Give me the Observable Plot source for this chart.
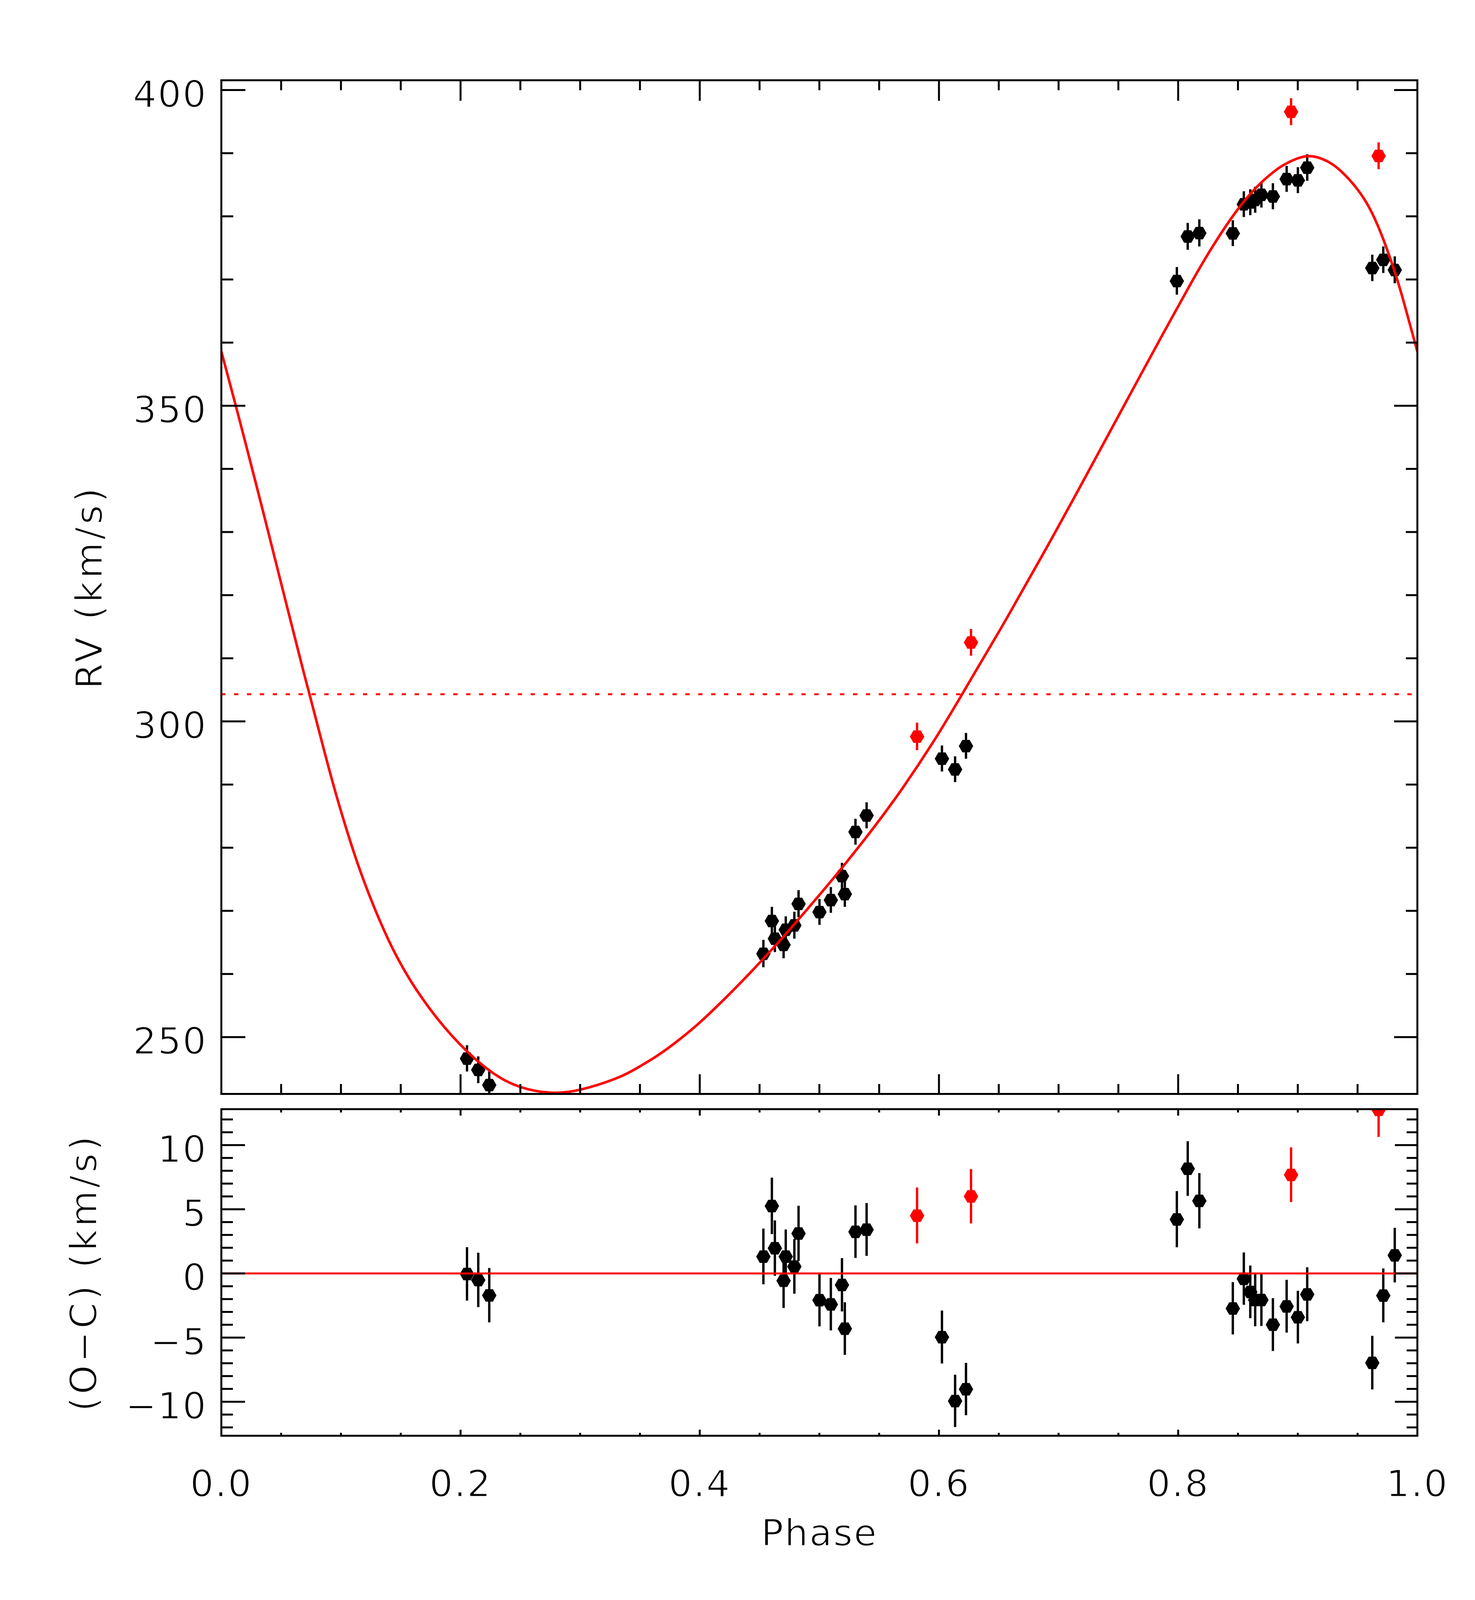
<!DOCTYPE html>
<html>
<head>
<meta charset="utf-8">
<script src="https://cdn.jsdelivr.net/npm/d3@7"></script>
<script src="https://cdn.jsdelivr.net/npm/@observablehq/plot@0.6"></script>
<style>
html,body{margin:0;padding:0;background:#fff;}
#chart{width:3775px;height:4133px;background:#fff;}
#chart svg{display:block;}
#chart svg text{stroke:#fff;stroke-width:2.5px;paint-order:normal;stroke-linejoin:round;}
</style>
</head>
<body>
<div id="chart"></div>
<script>
// ---- observed radial velocities ----
const phase = [0.2054,0.2148,0.2240,0.4532,0.4603,0.4628,0.4701,0.4719,0.4791,0.4826,0.5001,0.5096,0.5189,0.5213,0.5302,0.5395,0.5817,0.6025,0.6135,0.6226,0.6268,0.7989,0.8080,0.8177,0.8457,0.8549,0.8603,0.8644,0.8696,0.8792,0.8907,0.8944,0.9001,0.9079,0.9623,0.9676,0.9715,0.9811];
const rv = [246.6,244.8,242.4,263.2,268.4,265.6,264.6,267.0,267.7,271.1,269.8,271.7,275.5,272.65,282.5,285.1,297.6,294.1,292.4,296.1,312.5,369.75,376.8,377.35,377.3,381.9,382.2,382.6,383.4,383.15,385.9,396.55,385.7,387.7,371.8,389.56,373.1,371.5];
const oc = [-0.05,-0.52,-1.71,1.31,5.25,1.96,-0.57,1.31,0.53,3.11,-2.09,-2.41,-0.9,-4.31,3.24,3.41,4.5,-4.97,-9.95,-9.03,6.0,4.21,8.16,5.65,-2.73,-0.42,-1.45,-2.07,-2.07,-4.0,-2.57,7.68,-3.42,-1.64,-6.97,12.75,-1.73,1.41];
const err = [2.08,2.12,2.12,2.17,2.2,2.16,2.14,2.1,2.13,2.15,2.05,2.04,2.08,2.05,2.05,2.06,2.18,2.06,2.04,2.04,2.12,2.19,2.13,2.15,2.04,2.04,2.05,2.06,2.04,2.06,2.06,2.13,2.05,2.1,2.09,2.13,2.1,2.13];
const outlier = [0,0,0,0,0,0,0,0,0,0,0,0,0,0,0,0,1,0,0,0,1,0,0,0,0,0,0,0,0,0,0,1,0,0,0,1,0,0];

// ---- orbital model curve ----
const modelPhase = [0,0.0118,0.021,0.0336,0.0473,0.0668,0.0737,0.0851,0.0966,0.1103,0.1241,0.1401,0.1585,0.1814,0.2043,0.2272,0.2501,0.2755,0.3006,0.330,0.3476,0.3639,0.3803,0.3999,0.4238,0.4456,0.462,0.474,0.499,0.5198,0.5448,0.5698,0.5948,0.618,0.6448,0.658,0.695,0.732,0.769,0.7877,0.7989,0.8152,0.8314,0.8477,0.864,0.8802,0.8924,0.9086,0.9249,0.937,0.9492,0.9594,0.9696,0.9797,0.9878,1.0];
const modelRV = [358.6,350.2,343.5,334.2,323.9,309.3,304.3,296.0,288.0,279.55,272.3,265.25,258.85,252.75,247.95,244.3,242.1,241.2,241.7,243.46,245.11,246.99,249.22,252.3,256.63,260.88,264.24,266.78,272.28,277.02,283.02,289.5,296.63,303.87,312.5,316.79,329.22,342.06,355.01,361.52,365.36,370.9,376.0,380.56,384.31,387.1,388.56,389.53,388.7,387.0,384.45,381.5,377.3,372.0,367.0,358.6];
const gamma = 304.3;

// ---- axes ----
const xDomain = [0, 1];
const rvDomain = [241.0, 401.55];
const ocDomain = [-12.65, 12.8];
const xMajor = [0, 0.2, 0.4, 0.6, 0.8, 1.0];
const xMinor = [0.05,0.1,0.15,0.25,0.3,0.35,0.45,0.5,0.55,0.65,0.7,0.75,0.85,0.9,0.95];
const rvMajor = [250, 300, 350, 400];
const rvMinor = [260,270,280,290,310,320,330,340,360,370,380,390];
const ocMajor = [-10, -5, 0, 5, 10];
const ocMinor = [-12,-11,-9,-8,-7,-6,-4,-3,-2,-1,1,2,3,4,6,7,8,9,11,12];

const obs = phase.map((p, i) => ({phase: p, rv: rv[i], oc: oc[i], err: err[i], red: outlier[i] === 1}));
const model = modelPhase.map((p, i) => ({phase: p, rv: modelRV[i]}));
const black = obs.filter(d => !d.red);
const red = obs.filter(d => d.red);

const W = 3775, ML = 566, MR = 148;
const RED = "#ff0000";
const FONT = 95;
const FAMILY = "'DejaVu Sans', sans-serif";
const style = {fontFamily: FAMILY, fontSize: FONT + "px", background: "#fff", color: "#000", overflow: "visible"};
const lw = 5;

function ticks(anchor, values, len, kind) {
  const f = kind === "x" ? Plot.axisX : Plot.axisY;
  return f({anchor, ticks: values, tickSize: -len, fill: "none", stroke: "#000", strokeWidth: lw, label: null});
}
const fmtInt = d => d < 0 ? "\u2212" + Math.abs(d) : String(d);

function dataMarks(yField) {
  const bars = (arr, col) => Plot.ruleX(arr, {x: "phase", y1: d => d[yField] - d.err, y2: d => d[yField] + d.err, stroke: col, strokeWidth: 6, clip: true});
  const dots = (arr, col) => Plot.dot(arr, {x: "phase", y: yField, r: 16, symbol: "hexagon", rotate: 90, fill: col, stroke: "none", clip: true});
  return [bars(black, "#000"), dots(black, "#000"), bars(red, RED), dots(red, RED)];
}

const topPlot = Plot.plot({
  width: W, height: 2820,
  marginTop: 205, marginBottom: 20, marginLeft: ML, marginRight: MR,
  x: {domain: xDomain, label: null},
  y: {domain: rvDomain, label: null},
  style,
  marks: [
    ...dataMarks("rv"),
    Plot.ruleY([gamma], {stroke: RED, strokeWidth: 5, strokeDasharray: "11,22"}),
    Plot.line(model, {x: "phase", y: "rv", stroke: RED, strokeWidth: 6.5, curve: "natural", clip: true}),
    Plot.frame({stroke: "#000", strokeWidth: lw}),
    ticks("bottom", xMajor, 50, "x"),
    ticks("bottom", xMinor, 25, "x"),
    ticks("top", xMajor, 52, "x"),
    ticks("top", xMinor, 25, "x"),
    ticks("left", rvMajor, 62, "y"),
    ticks("left", rvMinor, 31, "y"),
    ticks("right", rvMajor, 60, "y"),
    ticks("right", rvMinor, 30, "y"),
    Plot.axisY({anchor: "left", ticks: rvMajor, tickSize: 0, tickPadding: 36, dy: 13, fontSize: FONT, label: null, tickFormat: fmtInt}),
    Plot.text(["RV (km/s)"], {text: d => d, frameAnchor: "left", rotate: -90, dx: 230 - ML, textAnchor: "middle", lineAnchor: "middle", fontSize: FONT})
  ]
});

const botPlot = Plot.plot({
  width: W, height: 1313,
  marginTop: 19, marginBottom: 458, marginLeft: ML, marginRight: MR,
  x: {domain: xDomain, label: null},
  y: {domain: ocDomain, label: null},
  style,
  marks: [
    ...dataMarks("oc"),
    Plot.ruleY([0], {stroke: RED, strokeWidth: 5}),
    Plot.frame({stroke: "#000", strokeWidth: lw}),
    ticks("bottom", xMajor, 15, "x"),
    ticks("bottom", xMinor, 7, "x"),
    ticks("top", xMajor, 16, "x"),
    ticks("top", xMinor, 8, "x"),
    ticks("left", ocMajor, 61, "y"),
    ticks("left", ocMinor, 30, "y"),
    ticks("right", ocMajor, 58, "y"),
    ticks("right", ocMinor, 28, "y"),
    Plot.axisY({anchor: "left", ticks: ocMajor, tickSize: 0, tickPadding: 36, dy: 13, fontSize: FONT, label: null, tickFormat: fmtInt}),
    Plot.axisX({anchor: "bottom", ticks: xMajor, tickSize: 0, tickPadding: 88, fontSize: FONT, label: null, tickFormat: d3.format(".1f")}),
    Plot.text(["(O\u2212C) (km/s)"], {text: d => d, frameAnchor: "left", rotate: -90, dx: 216 - ML, textAnchor: "middle", lineAnchor: "middle", fontSize: FONT}),
    Plot.text(["Phase"], {text: d => d, frameAnchor: "bottom", dy: 251, textAnchor: "middle", lineAnchor: "middle", fontSize: FONT})
  ]
});

const host = document.getElementById("chart");
host.appendChild(topPlot);
host.appendChild(botPlot);

// Hershey-like wide letter spacing
for (const svg of [topPlot, botPlot]) {
  d3.select(svg).selectAll("text").each(function () {
    this.style.letterSpacing = this.textContent.includes("km/s") ? "7px" : "3px";
  });
}
</script>
</body>
</html>
